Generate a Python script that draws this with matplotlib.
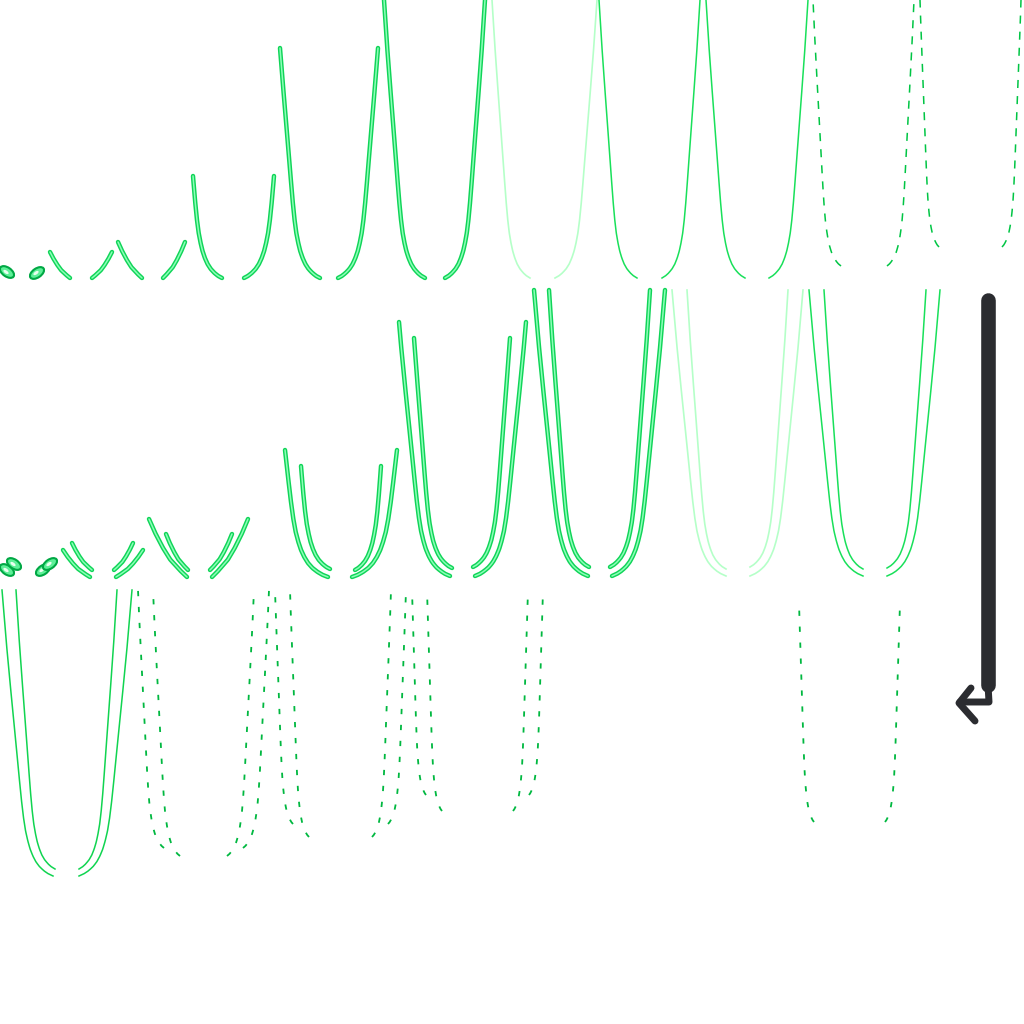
import numpy as np
import matplotlib
matplotlib.use("Agg")
import matplotlib.pyplot as plt
import matplotlib.patheffects as pe
from matplotlib.patches import Ellipse

plt.rcParams['lines.scale_dashes'] = False

# shape of a tall branch (pixels up from its foot)
profile_dy = [0, 2, 5, 9, 14, 20, 27, 35, 45, 58, 75, 95, 120, 150, 185, 228, 278, 360, 500]
profile_dx = [0, 3.5, 7, 10.5, 13.5, 16, 18.2, 20, 21.8, 23.4, 25, 26.6, 28.5, 30.8, 33.5, 36.7, 40, 45.5, 53]
# shape of a short branch (fractions of its height / width)
short_dy = [0, 0.1, 0.3, 0.5, 0.75, 1.0]
short_dx = [0, 0.16, 0.44, 0.63, 0.83, 1.0]

# branches: foot (xb, yb) and top (xt, yt), image pixel coordinates
r1_thick_xb = [70, 92, 142, 163, 222, 244, 320, 338, 425, 445]
r1_thick_yb = [278, 278, 278, 278, 278, 278, 278, 278, 278, 278]
r1_thick_xt = [50, 112, 118, 185, 193, 274, 280, 378, 384, 485]
r1_thick_yt = [252, 252, 242, 242, 176, 176, 48, 48, 0, 0]

r1_light_xb = [530, 555]
r1_light_yb = [278, 278]
r1_light_xt = [492, 597]
r1_light_yt = [0, 0]

r1_thin_xb = [637, 662, 745, 769]
r1_thin_yb = [278, 278, 278, 278]
r1_thin_xt = [599, 700, 706, 808]
r1_thin_yt = [0, 0, 0, 0]

r1_dash_xb = [841, 887, 939, 1002]
r1_dash_yb = [266, 266, 247, 247]
r1_dash_xt = [813, 914, 920, 1021]
r1_dash_yt = [0, 0, 0, 0]

r2_thick_xb = [90, 92, 116, 114, 187, 188, 212, 210, 328, 330, 352, 355,
               450, 452, 475, 473, 588, 589, 612, 610]
r2_thick_yb = [577, 570, 577, 570, 577, 570, 577, 570, 577, 569, 577, 570,
               576, 568, 576, 567, 576, 567, 576, 567]
r2_thick_xt = [63, 72, 143, 133, 149, 166, 248, 232, 285, 301, 397, 381,
               399, 414, 526, 510, 534, 549, 665, 650]
r2_thick_yt = [550, 543, 550, 543, 519, 534, 519, 534, 450, 466, 450, 466,
               322, 338, 322, 338, 290, 290, 290, 290]

r2_light_xb = [726, 726, 750, 750]
r2_light_yb = [576, 569, 576, 567]
r2_light_xt = [672, 687, 803, 788]
r2_light_yt = [290, 290, 290, 290]

r2_thin_xb = [863, 863, 887, 887]
r2_thin_yb = [576, 569, 576, 568]
r2_thin_xt = [809, 824, 940, 926]
r2_thin_yt = [290, 290, 290, 290]

r3_thin_xb = [53, 55, 79, 79]
r3_thin_yb = [876, 869, 876, 869]
r3_thin_xt = [2, 16, 132, 117]
r3_thin_yt = [590, 590, 590, 590]

r3_dash_xb = [164, 180, 227, 243, 293, 309, 372, 388, 426, 442, 513, 529, 814, 885]
r3_dash_yb = [848, 856, 856, 848, 824, 837, 837, 824, 795, 811, 811, 795, 822, 822]
r3_dash_xt = [138, 153, 254, 269, 275, 290, 391, 406, 412, 427, 528, 543, 799, 900]
r3_dash_yt = [590, 590, 590, 590, 590, 590, 590, 590, 590, 590, 590, 590, 603, 603]

# little blobs at the left end of rows 1 and 2
blob_x = [7, 37, 7, 14, 43, 50]
blob_y = [272, 273, 570, 564, 570, 564]
blob_tilt = [35, -35, 35, 35, -35, -35]

# return arrow on the right
arrow_bar_x = [988, 988]
arrow_bar_y = [300, 685]
arrow_hook_x = [988, 989, 960]
arrow_hook_y = [685, 702, 702]
arrow_head_x = [971, 959, 975]
arrow_head_y = [688, 703, 721]


def branch(xb, yb, xt, yt):
	h = yb - yt
	w = abs(xt - xb)
	if h <= 60:
		dy = np.linspace(0, 1, 60)
		dx = np.interp(dy, short_dy, short_dx) * w
		dy = dy * h
	else:
		dy = np.linspace(0, h, 120)
		dx = np.interp(dy, profile_dy, profile_dx)
		dx = dx * w / dx[-1]
	sign = 1 if xt > xb else -1
	return xb + sign * dx, yb - dy


def draw(ax, xb, yb, xt, yt, **kw):
	effects = kw.pop('effects', None)
	for i in range(len(xb)):
		x, y = branch(xb[i], yb[i], xt[i], yt[i])
		line, = ax.plot(x, y, **kw)
		if effects:
			line.set_path_effects(effects)


fig = plt.figure(figsize=(10.24, 10.24), dpi=100)
ax = fig.add_axes([0, 0, 1, 1])
ax.set_xlim(0, 1024)
ax.set_ylim(1024, 0)
ax.axis('off')

tube = [pe.Stroke(linewidth=3.2, foreground='#10d458'), pe.Normal()]
draw(ax, r1_thick_xb, r1_thick_yb, r1_thick_xt, r1_thick_yt,
     color='#8cffb8', lw=1.1, solid_capstyle='round', effects=tube)
draw(ax, r1_light_xb, r1_light_yb, r1_light_xt, r1_light_yt, color='#b5ffc8', lw=1.2)
draw(ax, r1_thin_xb, r1_thin_yb, r1_thin_xt, r1_thin_yt, color='#19e05a', lw=1.1)
draw(ax, r1_dash_xb, r1_dash_yb, r1_dash_xt, r1_dash_yt, color='#00c544', lw=1.1,
     linestyle=(0, (5.8, 5.8)))

draw(ax, r2_thick_xb, r2_thick_yb, r2_thick_xt, r2_thick_yt,
     color='#8cffb8', lw=1.1, solid_capstyle='round', effects=tube)
draw(ax, r2_light_xb, r2_light_yb, r2_light_xt, r2_light_yt, color='#b5ffc8', lw=1.2)
draw(ax, r2_thin_xb, r2_thin_yb, r2_thin_xt, r2_thin_yt, color='#19e05a', lw=1.1)

draw(ax, r3_thin_xb, r3_thin_yb, r3_thin_xt, r3_thin_yt, color='#10d450', lw=1.1)
draw(ax, r3_dash_xb, r3_dash_yb, r3_dash_xt, r3_dash_yt, color='#00b840', lw=1.3,
     linestyle=(0, (3.8, 7.7)))

for i in range(len(blob_x)):
	ax.add_patch(Ellipse((blob_x[i], blob_y[i]), 16, 9, angle=blob_tilt[i],
	                     facecolor='#5ef098', edgecolor='#00a844', lw=1.5))
	ax.add_patch(Ellipse((blob_x[i] - 1, blob_y[i]), 6, 3, angle=blob_tilt[i],
	                     facecolor='#eafff0', edgecolor='none'))

ax.plot(arrow_bar_x, arrow_bar_y, color='#2b2c30', lw=10.5, solid_capstyle='round')
ax.plot(arrow_hook_x, arrow_hook_y, color='#2b2c30', lw=5, solid_capstyle='round',
        solid_joinstyle='round')
ax.plot(arrow_head_x, arrow_head_y, color='#2b2c30', lw=5, solid_capstyle='round',
        solid_joinstyle='round')

plt.savefig('out.png', dpi=100, facecolor='white')
